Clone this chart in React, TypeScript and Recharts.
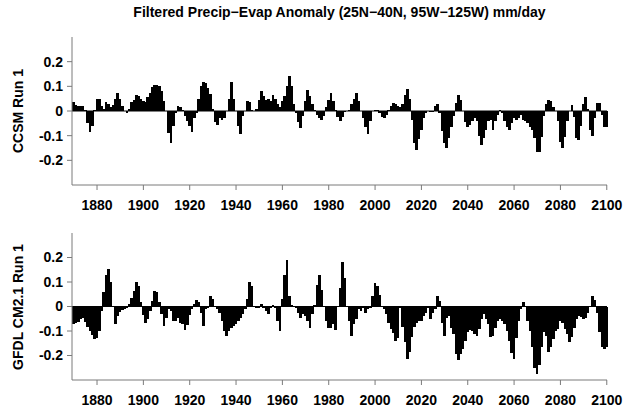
import React from 'react';
import { BarChart, Bar, XAxis, YAxis, ReferenceLine } from 'recharts';

// filtered P-E anomaly, mm/day, one value per year starting at FIRST_YEAR
const FIRST_YEAR = 1870;
const YEAR_TICKS = [1880, 1900, 1920, 1940, 1960, 1980, 2000, 2020, 2040, 2060, 2080, 2100];
const VALUE_TICKS = [-0.2, -0.1, 0, 0.1, 0.2];

const ccsmRun1 = [
  0.035, 0.025, 0.022, 0.022, 0.02, 0.003, -0.05, -0.085, -0.06, 0.005,
  0.05, 0.048, 0.02, 0.01, 0.035, 0.03, 0.015, 0.025, 0.05, 0.072,
  0.05, 0.02, 0.0, -0.01, 0.01, 0.035, 0.045, 0.063, 0.06, 0.05,
  0.04, 0.035, 0.055, 0.075, 0.097, 0.107, 0.107, 0.1, 0.08, 0.04,
  0.0, -0.09, -0.13, -0.06, -0.01, 0.02, 0.015, 0.005, -0.02, -0.04,
  -0.06, -0.085, -0.03, -0.01, 0.05, 0.1, 0.117, 0.115, 0.095, 0.07,
  0.01, -0.045, -0.055, -0.03, -0.035, -0.03, 0.0, 0.05, 0.117, 0.05,
  0.0, -0.06, -0.095, -0.02, 0.0, 0.04, 0.035, 0.005, 0.0, 0.01,
  0.045, 0.08, 0.06, 0.045, 0.05, 0.04, 0.065, 0.05, 0.03, 0.015,
  0.04, 0.06, 0.1, 0.14, 0.1, 0.03, -0.01, -0.045, -0.07, -0.02,
  0.04, 0.085, 0.06, 0.03, 0.005, -0.015, -0.03, -0.035, -0.02, 0.015,
  0.045, 0.075, 0.04, 0.005, -0.025, -0.04, -0.025, -0.005, 0.0, 0.005,
  0.03, 0.05, 0.075, 0.04, 0.0, -0.03, -0.065, -0.095, -0.04, 0.0,
  0.005, 0.005, -0.01, -0.025, -0.03, -0.015, 0.005, 0.022, 0.032, 0.028,
  0.02, 0.016, 0.03, 0.065, 0.09, 0.05, -0.035, -0.13, -0.158, -0.115,
  -0.075, -0.03, -0.01, 0.0, -0.004, -0.004, 0.022, 0.03, -0.01, -0.08,
  -0.13, -0.152, -0.11, -0.065, -0.02, 0.032, 0.063, 0.043, 0.0, -0.045,
  -0.065, -0.058, -0.04, -0.03, -0.04, -0.1, -0.138, -0.11, -0.078, -0.04,
  -0.035, -0.078, -0.04, -0.015, 0.005, -0.01, -0.04, -0.065, -0.075, -0.05,
  -0.03, -0.035, -0.028, -0.017, -0.035, -0.04, -0.05, -0.065, -0.078, -0.11,
  -0.165, -0.168, -0.105, -0.02, 0.03, 0.046, 0.04, 0.015, 0.0, -0.04,
  -0.125, -0.152, -0.105, -0.04, 0.0, 0.023, -0.025, -0.11, -0.118, -0.06,
  0.03, 0.057, 0.01, -0.078, -0.1, -0.03, 0.032, 0.032, -0.015, -0.065,
  -0.065,
];

const gfdlRun1 = [
  -0.07, -0.068, -0.065, -0.05, -0.045, -0.065, -0.085, -0.1, -0.115, -0.133,
  -0.13, -0.1, -0.02, 0.06, 0.13, 0.155, 0.1, 0.0, -0.07, -0.04,
  -0.022, -0.016, -0.012, -0.005, 0.01, 0.035, 0.064, 0.1, 0.085, 0.02,
  -0.035, -0.066, -0.05, -0.02, 0.021, 0.062, 0.06, 0.02, -0.032, -0.08,
  -0.045, -0.01, -0.02, -0.06, -0.058, -0.045, -0.066, -0.072, -0.097, -0.075,
  -0.035, -0.01, 0.01, 0.028, 0.02, -0.025, -0.08, -0.01, -0.005, 0.042,
  0.03, -0.003, -0.01, -0.025, -0.06, -0.1, -0.12, -0.1, -0.086, -0.08,
  -0.072, -0.058, -0.046, -0.032, -0.01, 0.032, 0.1, 0.082, 0.0, -0.005,
  -0.007, 0.01, -0.005, -0.02, -0.032, -0.005, 0.008, -0.005, -0.06, -0.1,
  0.03, 0.13, 0.19, 0.042, 0.008, 0.0, -0.005, -0.025, -0.046, -0.03,
  -0.04, -0.06, -0.089, -0.03, 0.008, 0.089, 0.13, 0.068, 0.0, -0.06,
  -0.086, -0.088, -0.073, -0.097, 0.0, 0.075, 0.183, 0.115, 0.0, -0.06,
  -0.12, -0.073, -0.052, -0.012, -0.018, -0.008, -0.025, -0.012, -0.005, 0.042,
  0.095, 0.082, 0.048, 0.0, -0.012, -0.032, -0.066, -0.09, -0.11, -0.14,
  -0.13, -0.005, -0.085, -0.146, -0.213, -0.187, -0.126, -0.085, -0.066, -0.06,
  -0.06, -0.039, -0.025, -0.005, -0.052, -0.025, -0.012, 0.042, 0.021, -0.066,
  -0.12, -0.046, -0.039, -0.086, -0.113, -0.193, -0.22, -0.193, -0.173, -0.14,
  -0.106, -0.097, -0.1, -0.113, -0.12, -0.093, -0.052, -0.032, -0.052, -0.072,
  -0.126, -0.12, -0.086, -0.06, -0.052, -0.06, -0.07, -0.1, -0.14, -0.19,
  -0.213, -0.13, -0.06, -0.01, 0.019, 0.0, -0.06, -0.1, -0.166, -0.25,
  -0.274, -0.24, -0.166, -0.106, -0.12, -0.187, -0.166, -0.133, -0.1, -0.093,
  -0.06, -0.066, -0.093, -0.113, -0.146, -0.126, -0.086, -0.052, -0.039, -0.043,
  -0.052, -0.046, -0.025, 0.0, 0.042, 0.028, -0.025, -0.106, -0.166, -0.173,
  -0.166,
];

const FONT = '"Liberation Sans", Arial, Helvetica, sans-serif';
const AXIS = '#7a7a7a';
const X_DOMAIN = [1869.2, 2100.1];
const BAR_W = 2.7; // a hair wider than one year so neighbours touch
const tickStyle = { fill: '#000', fontSize: 14, fontWeight: 700, fontFamily: FONT };
const noLabel = () => '';

const toRows = (values: number[]) => values.map((v, i) => ({ year: FIRST_YEAR + i, v }));

// solid block centred on the year, whatever width recharts hands us
const YearBlock = (props: any) => {
  const { x, y, width, height } = props;
  if (x == null || y == null || !height) return null;
  const cx = x + width / 2;
  const top = Math.min(y, y + height);
  return (
    <rect
      x={cx - BAR_W / 2}
      y={top}
      width={BAR_W}
      height={Math.abs(height)}
      fill="#000"
      shapeRendering="crispEdges"
    />
  );
};

interface PanelProps {
  values: number[];
  top: number;
  height: number;
  axisHeight: number;
}

const Panel: React.FC<PanelProps> = ({ values, top, height, axisHeight }) => (
  <div style={{ position: 'absolute', left: 0, top }}>
    <BarChart
      width={623}
      height={height}
      data={toRows(values)}
      margin={{ top: 37, right: 16, bottom: 0, left: 0 }}
      barCategoryGap={0}
      barGap={0}
    >
      <XAxis
        dataKey="year"
        type="number"
        domain={X_DOMAIN}
        ticks={YEAR_TICKS}
        interval={0}
        height={axisHeight}
        tickSize={5}
        tickMargin={10}
        stroke={AXIS}
        tick={tickStyle}
      />
      <XAxis
        xAxisId="top"
        orientation="top"
        dataKey="year"
        type="number"
        domain={X_DOMAIN}
        ticks={YEAR_TICKS}
        interval={0}
        height={0}
        tickSize={5}
        stroke={AXIS}
        tickFormatter={noLabel}
      />
      <YAxis
        type="number"
        domain={[-0.3, 0.3]}
        ticks={VALUE_TICKS}
        interval={0}
        width={72}
        tickSize={5}
        tickMargin={4}
        stroke={AXIS}
        tick={tickStyle}
        tickFormatter={(v: number) => (v === 0 ? '0' : v.toFixed(1))}
      />
      <YAxis
        yAxisId="right"
        orientation="right"
        type="number"
        domain={[-0.3, 0.3]}
        ticks={VALUE_TICKS}
        interval={0}
        width={0}
        tickSize={5}
        stroke={AXIS}
        tickFormatter={noLabel}
      />
      <ReferenceLine y={0} stroke="#000" strokeWidth={1} />
      <Bar dataKey="v" fill="#000" shape={YearBlock} isAnimationActive={false} />
    </BarChart>
  </div>
);

const sideLabel = (cy: number): React.CSSProperties => ({
  position: 'absolute',
  left: 18,
  top: cy,
  transform: 'translate(-50%, -50%) rotate(-90deg)',
  whiteSpace: 'nowrap',
  fontSize: 14,
  fontWeight: 700,
});

export default function App() {
  return (
    <div style={{ position: 'relative', width: 623, height: 410, background: '#fff', fontFamily: FONT, color: '#000' }}>
      <style>{'body{margin:0}'}</style>
      <div style={{ position: 'absolute', left: 72, width: 535, top: 4, textAlign: 'center', fontSize: 14, fontWeight: 700 }}>
        Filtered Precip−Evap Anomaly (25N−40N, 95W−125W) mm/day
      </div>
      <Panel values={ccsmRun1} top={0} height={220} axisHeight={35} />
      <Panel values={gfdlRun1} top={196} height={214} axisHeight={30} />
      <div style={sideLabel(111)}>CCSM Run 1</div>
      <div style={sideLabel(307)}>GFDL CM2.1 Run 1</div>
    </div>
  );
}
